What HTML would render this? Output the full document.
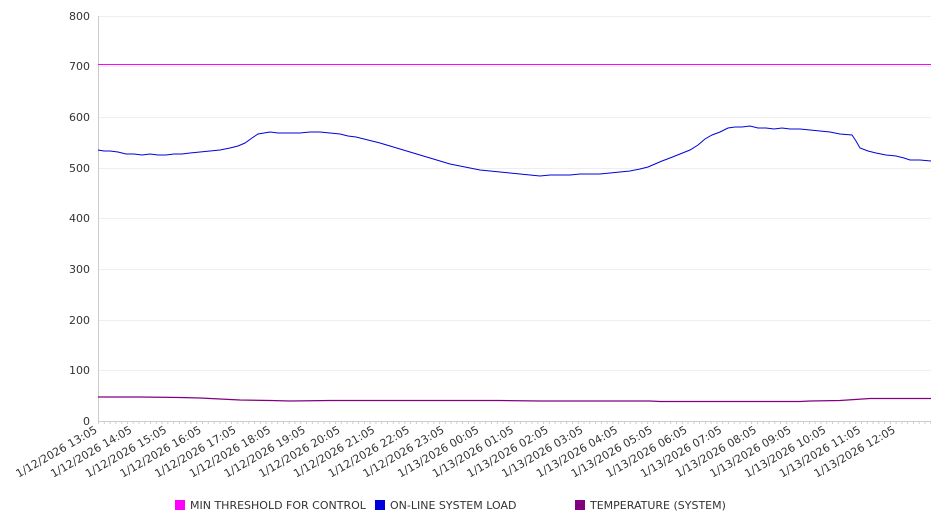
<!DOCTYPE html>
<html><head><meta charset="utf-8"><style>
body{margin:0;background:#fff;width:946px;height:526px;overflow:hidden;font-family:"DejaVu Sans","Liberation Sans",sans-serif;}
</style></head><body>
<svg width="946" height="526" xmlns="http://www.w3.org/2000/svg" font-family="DejaVu Sans, Liberation Sans, sans-serif" font-size="11" fill="#333">
<defs><pattern id="tk" x="98" y="0" width="5.78" height="10" patternUnits="userSpaceOnUse"><rect x="0" y="0" width="1" height="4" fill="#ccc"/></pattern></defs>
<g stroke="#eee" stroke-width="1">
<line x1="98" y1="16.5" x2="931" y2="16.5"/><line x1="98" y1="66.5" x2="931" y2="66.5"/><line x1="98" y1="117.5" x2="931" y2="117.5"/><line x1="98" y1="168.5" x2="931" y2="168.5"/><line x1="98" y1="218.5" x2="931" y2="218.5"/><line x1="98" y1="269.5" x2="931" y2="269.5"/><line x1="98" y1="320.5" x2="931" y2="320.5"/><line x1="98" y1="370.5" x2="931" y2="370.5"/>
</g>
<line x1="98.5" y1="16" x2="98.5" y2="421" stroke="#ccc"/>
<line x1="98" y1="421.5" x2="931" y2="421.5" stroke="#ccc"/>
<rect x="98" y="422" width="833" height="4" fill="url(#tk)"/>
<g text-anchor="end">
<text x="90" y="20">800</text><text x="90" y="70">700</text><text x="90" y="121">600</text><text x="90" y="172">500</text><text x="90" y="222">400</text><text x="90" y="273">300</text><text x="90" y="324">200</text><text x="90" y="374">100</text><text x="90" y="425">0</text>
</g>
<line x1="98" y1="64.5" x2="931" y2="64.5" stroke="#ff00ff" stroke-width="1"/>
<polyline fill="none" stroke="#0000dd" stroke-width="1" points="98,150 104,151 110,151 118,152 126,154 134,154 142,155 150,154 158,155 166,155 174,154 182,154 190,153 200,152 210,151 220,150 230,148 238,146 245,143 252,138 258,134 264,133 270,132 278,133 290,133 300,133 310,132 320,132 330,133 340,134 348,136 356,137 364,139 372,141 380,143 390,146 400,149 410,152 420,155 430,158 440,161 450,164 460,166 470,168 480,170 490,171 500,172 510,173 520,174 530,175 540,176 550,175 560,175 570,175 580,174 590,174 600,174 610,173 620,172 630,171 640,169 648,167 655,164 662,161 670,158 680,154 690,150 698,145 705,139 712,135 720,132 728,128 735,127 742,127 750,126 758,128 766,128 774,129 782,128 790,129 800,129 810,130 820,131 830,132 840,134 852,135 856,141 860,148 868,151 876,153 886,155 896,156 904,158 910,160 920,160 931,161"/>
<polyline fill="none" stroke="#800080" stroke-width="1.2" points="98,397 140,397 180,397.5 200,398 220,399 240,400 270,400.5 290,401 330,400.5 480,400.5 500,400.5 540,401 650,401 660,401.5 800,401.5 810,401 840,400.5 870,398.5 931,398.5"/>
<g>
<text transform="translate(98,432) rotate(-30)" text-anchor="end">1/12/2026 13:05</text>
<text transform="translate(132.7,432) rotate(-30)" text-anchor="end">1/12/2026 14:05</text>
<text transform="translate(167.4,432) rotate(-30)" text-anchor="end">1/12/2026 15:05</text>
<text transform="translate(202.1,432) rotate(-30)" text-anchor="end">1/12/2026 16:05</text>
<text transform="translate(236.8,432) rotate(-30)" text-anchor="end">1/12/2026 17:05</text>
<text transform="translate(271.5,432) rotate(-30)" text-anchor="end">1/12/2026 18:05</text>
<text transform="translate(306.2,432) rotate(-30)" text-anchor="end">1/12/2026 19:05</text>
<text transform="translate(340.9,432) rotate(-30)" text-anchor="end">1/12/2026 20:05</text>
<text transform="translate(375.6,432) rotate(-30)" text-anchor="end">1/12/2026 21:05</text>
<text transform="translate(410.3,432) rotate(-30)" text-anchor="end">1/12/2026 22:05</text>
<text transform="translate(445,432) rotate(-30)" text-anchor="end">1/12/2026 23:05</text>
<text transform="translate(479.7,432) rotate(-30)" text-anchor="end">1/13/2026 00:05</text>
<text transform="translate(514.4,432) rotate(-30)" text-anchor="end">1/13/2026 01:05</text>
<text transform="translate(549.1,432) rotate(-30)" text-anchor="end">1/13/2026 02:05</text>
<text transform="translate(583.8,432) rotate(-30)" text-anchor="end">1/13/2026 03:05</text>
<text transform="translate(618.5,432) rotate(-30)" text-anchor="end">1/13/2026 04:05</text>
<text transform="translate(653.2,432) rotate(-30)" text-anchor="end">1/13/2026 05:05</text>
<text transform="translate(687.9,432) rotate(-30)" text-anchor="end">1/13/2026 06:05</text>
<text transform="translate(722.6,432) rotate(-30)" text-anchor="end">1/13/2026 07:05</text>
<text transform="translate(757.3,432) rotate(-30)" text-anchor="end">1/13/2026 08:05</text>
<text transform="translate(792,432) rotate(-30)" text-anchor="end">1/13/2026 09:05</text>
<text transform="translate(826.7,432) rotate(-30)" text-anchor="end">1/13/2026 10:05</text>
<text transform="translate(861.4,432) rotate(-30)" text-anchor="end">1/13/2026 11:05</text>
<text transform="translate(896.1,432) rotate(-30)" text-anchor="end">1/13/2026 12:05</text>
</g>
<rect x="175" y="500" width="10" height="10" fill="#ff00ff"/>
<text x="190" y="509">MIN THRESHOLD FOR CONTROL</text>
<rect x="375" y="500" width="10" height="10" fill="#0000dd"/>
<text x="390" y="509">ON-LINE SYSTEM LOAD</text>
<rect x="575" y="500" width="10" height="10" fill="#800080"/>
<text x="590" y="509">TEMPERATURE (SYSTEM)</text>
</svg>
</body></html>
